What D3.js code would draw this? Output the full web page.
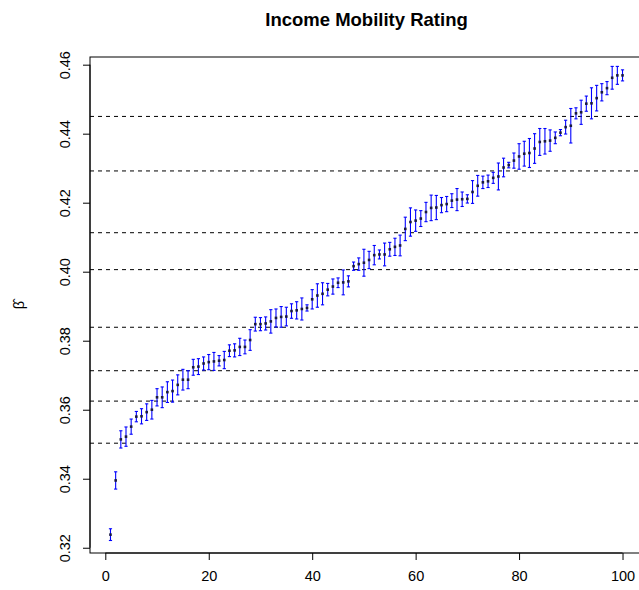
<!DOCTYPE html>
<html>
<head>
<meta charset="utf-8">
<script src="https://cdn.jsdelivr.net/npm/d3@7"></script>
<style>
  body { margin: 0; background: #fff; }
  svg { display: block; font-family: "Liberation Sans", Arial, sans-serif; }
</style>
</head>
<body>
<svg width="639" height="590"></svg>
<script>
// rank 1..100, estimated coefficient and half-width of its interval
const rank = d3.range(1, 101);

const beta = [
  0.3238, 0.3395, 0.3514, 0.3522, 0.3551, 0.3580, 0.3581, 0.3593, 0.3600, 0.3636,
  0.3636, 0.3651, 0.3654, 0.3672, 0.3687, 0.3687, 0.3723, 0.3725, 0.3734, 0.3738,
  0.3740, 0.3742, 0.3744, 0.3771, 0.3772, 0.3782, 0.3782, 0.3802, 0.3848, 0.3848,
  0.3850, 0.3856, 0.3866, 0.3869, 0.3870, 0.3886, 0.3888, 0.3892, 0.3895, 0.3920,
  0.3931, 0.3936, 0.3948, 0.3957, 0.3968, 0.3969, 0.3972, 0.4016, 0.4022, 0.4026,
  0.4034, 0.4048, 0.4050, 0.4050, 0.4065, 0.4072, 0.4076, 0.4124, 0.4144, 0.4148,
  0.4154, 0.4173, 0.4185, 0.4186, 0.4193, 0.4196, 0.4206, 0.4209, 0.4210, 0.4211,
  0.4231, 0.4249, 0.4259, 0.4262, 0.4272, 0.4276, 0.4302, 0.4309, 0.4322, 0.4334,
  0.4342, 0.4344, 0.4357, 0.4376, 0.4378, 0.4380, 0.4388, 0.4403, 0.4419, 0.4423,
  0.4459, 0.4462, 0.4487, 0.4488, 0.4503, 0.4520, 0.4532, 0.4562, 0.4569, 0.4569
];

const err = [
  0.0017, 0.0025, 0.0025, 0.0028, 0.0022, 0.0015, 0.0022, 0.0024, 0.0027, 0.0025,
  0.0030, 0.0030, 0.0032, 0.0029, 0.0030, 0.0026, 0.0023, 0.0023, 0.0019, 0.0022,
  0.0026, 0.0015, 0.0025, 0.0017, 0.0019, 0.0025, 0.0020, 0.0030, 0.0020, 0.0019,
  0.0019, 0.0034, 0.0026, 0.0030, 0.0027, 0.0021, 0.0025, 0.0032, 0.0009, 0.0028,
  0.0034, 0.0032, 0.0018, 0.0022, 0.0014, 0.0036, 0.0016, 0.0012, 0.0018, 0.0039,
  0.0025, 0.0028, 0.0013, 0.0033, 0.0020, 0.0025, 0.0030, 0.0034, 0.0041, 0.0031,
  0.0023, 0.0028, 0.0037, 0.0035, 0.0022, 0.0022, 0.0020, 0.0032, 0.0021, 0.0012,
  0.0033, 0.0030, 0.0018, 0.0018, 0.0016, 0.0039, 0.0027, 0.0008, 0.0022, 0.0037,
  0.0036, 0.0042, 0.0043, 0.0039, 0.0037, 0.0031, 0.0017, 0.0009, 0.0020, 0.0050,
  0.0016, 0.0035, 0.0022, 0.0045, 0.0037, 0.0025, 0.0019, 0.0033, 0.0026, 0.0016
];

// horizontal reference (cut) levels
const cuts = [0.4450, 0.4292, 0.4113, 0.4006, 0.3839, 0.3713, 0.3625, 0.3503];

const xTicks = [0, 20, 40, 60, 80, 100];
const yTicks = [0.32, 0.34, 0.36, 0.38, 0.40, 0.42, 0.44, 0.46];

const svg = d3.select("svg");
const plotL = 90, plotR = 643, plotT = 57, plotB = 553;

// R style 4% padding around the data range
const xr = d3.extent(rank), yr = d3.extent(beta);
const xpad = (xr[1] - xr[0]) * 0.04, ypad = (yr[1] - yr[0]) * 0.04;

const x = d3.scaleLinear().domain([xr[0] - xpad, xr[1] + xpad]).range([plotL, plotR]);
const y = d3.scaleLinear().domain([yr[0] - ypad, yr[1] + ypad]).range([plotB, plotT]);

// dashed cut lines
svg.append("g")
  .selectAll("line")
  .data(cuts)
  .join("line")
  .attr("x1", plotL).attr("x2", plotR)
  .attr("y1", d => y(d)).attr("y2", d => y(d))
  .attr("stroke", "#000")
  .attr("stroke-dasharray", "4,4");

// error bars
const bars = svg.append("g")
  .attr("stroke", "#0000ff")
  .attr("stroke-width", 1.1);

bars.selectAll("line.v")
  .data(rank)
  .join("line")
  .attr("class", "v")
  .attr("x1", d => x(d)).attr("x2", d => x(d))
  .attr("y1", (d, i) => y(beta[i] - err[i]))
  .attr("y2", (d, i) => y(beta[i] + err[i]));

bars.selectAll("line.lo")
  .data(rank)
  .join("line")
  .attr("class", "lo")
  .attr("x1", d => x(d) - 1.6).attr("x2", d => x(d) + 1.6)
  .attr("y1", (d, i) => y(beta[i] - err[i]))
  .attr("y2", (d, i) => y(beta[i] - err[i]));

bars.selectAll("line.hi")
  .data(rank)
  .join("line")
  .attr("class", "hi")
  .attr("x1", d => x(d) - 1.6).attr("x2", d => x(d) + 1.6)
  .attr("y1", (d, i) => y(beta[i] + err[i]))
  .attr("y2", (d, i) => y(beta[i] + err[i]));

// point estimates
svg.append("g")
  .selectAll("rect")
  .data(rank)
  .join("rect")
  .attr("x", d => x(d) - 1.3)
  .attr("y", (d, i) => y(beta[i]) - 1.3)
  .attr("width", 2.6)
  .attr("height", 2.6)
  .attr("fill", "#1a1a40");

// plot box
svg.append("rect")
  .attr("x", plotL).attr("y", plotT)
  .attr("width", plotR - plotL).attr("height", plotB - plotT)
  .attr("fill", "none")
  .attr("stroke", "#000");

// axes
const xAxis = svg.append("g")
  .attr("transform", `translate(0,${plotB})`)
  .call(d3.axisBottom(x).tickValues(xTicks).tickSize(7).tickPadding(11).tickFormat(d3.format("d")));
xAxis.select(".domain").attr("d", `M${x(0)},0H${x(100)}`);

const yAxis = svg.append("g")
  .attr("transform", `translate(${plotL},0)`)
  .call(d3.axisLeft(y).tickValues(yTicks).tickSize(7).tickFormat(d3.format(".2f")));
yAxis.select(".domain").attr("d", `M0,${y(0.32)}V${y(0.46)}`);
yAxis.selectAll(".tick text")
  .attr("x", 0).attr("dy", 0)
  .attr("text-anchor", "middle")
  .attr("transform", "translate(-20,0) rotate(-90)");

svg.selectAll(".tick text").attr("font-size", 14.5).attr("fill", "#000")
  .attr("font-family", "Liberation Sans, Arial, sans-serif");
svg.selectAll(".tick line, .domain").attr("stroke", "#000");

// title and axis label
svg.append("text")
  .attr("x", (plotL + plotR) / 2)
  .attr("y", 26)
  .attr("text-anchor", "middle")
  .attr("font-weight", "bold")
  .attr("font-size", 18.5)
  .text("Income Mobility Rating");

svg.append("text")
  .attr("transform", `translate(24,${(plotT + plotB) / 2}) rotate(-90)`)
  .attr("text-anchor", "middle")
  .attr("font-size", 14.5)
  .text("β\u0302");
</script>
</body>
</html>
